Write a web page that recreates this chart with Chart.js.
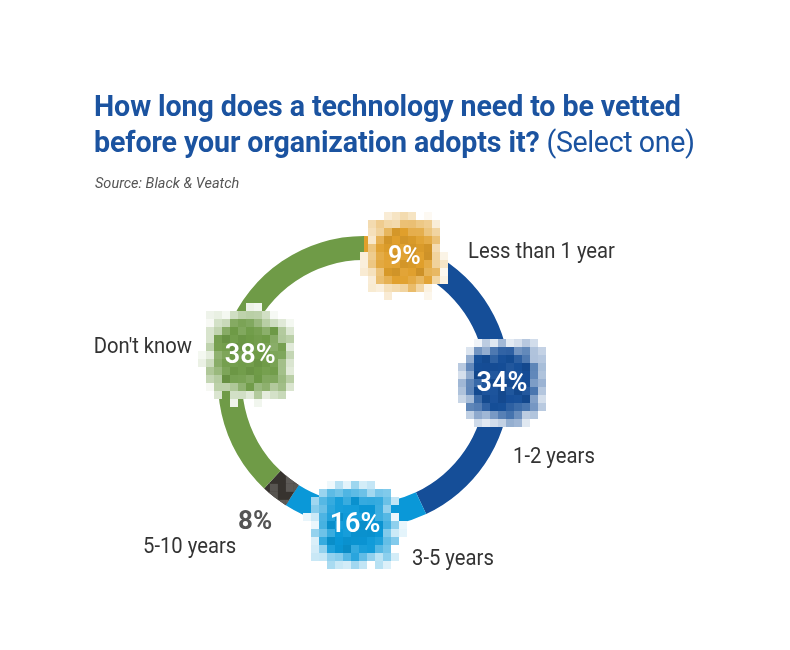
<!DOCTYPE html>
<html><head><meta charset="utf-8">
<script src="https://cdn.jsdelivr.net/npm/chart.js@4.4.1/dist/chart.umd.min.js"></script>
<style>
html,body{margin:0;padding:0;background:#fff;width:790px;height:650px;overflow:hidden;font-family:Roboto,"Noto Sans",sans-serif}
#title{position:absolute;left:94px;top:88px;color:#1b53a0;font-size:28.6px;line-height:36px;font-weight:700;white-space:nowrap;z-index:2;letter-spacing:-0.1px}
#title .light{font-weight:400;letter-spacing:-0.4px}
#source{position:absolute;left:95px;top:175px;font-size:14.5px;font-style:italic;color:#555;z-index:2}
#wrap{position:absolute;left:0;top:0;width:790px;height:650px}
</style></head><body>
<div id="title">How long does a technology need to be vetted<br>before your organization adopts it? <span class="light">(Select one)</span></div>
<div id="source">Source: Black &amp; Veatch</div>
<div id="wrap"><canvas id="c" width="790" height="650" style="width:790px;height:650px"></canvas></div>
<script>
// ---- data ----
const categories = ["Less than 1 year", "1-2 years", "3-5 years", "5-10 years", "Don't know"];
const shares = [9, 34, 16, 3, 38];              // arc sizes as drawn in the ring
const valueLabels = ["9%", "34%", "16%", "8%", "38%"]; // labels as printed
const colors = ["#e09f2b", "#154e98", "#0a98d8", "#37332f", "#6f9b47"];

// ---- style config ----
const badgeCfg = {
  frac: [0.55, 0.475, 0.5, null, 0.44],
  rOff: [-2, 4, 9, null, -17],
  size: [0.92, 1.0, 1.0, 0, 1.05],
  font: [25, 27, 27, 0, 27]
};
const outLabels = [
  {text: "Less than 1 year", dx: 104, dy: -130, align: "left"},
  {text: "1-2 years", dx: 149, dy: 75, align: "left"},
  {text: "3-5 years", dx: 48, dy: 177, align: "left"},
  {text: "5-10 years", dx: -221, dy: 165, align: "left"},
  {text: "Don't know", dx: -172, dy: -35, align: "right"}
];
const darkLabel = {dx: -126, dy: 140};

function hash(a, b, c) {
  const v = Math.sin(a * 12.9898 + b * 78.233 + c * 37.719) * 43758.5453;
  return v - Math.floor(v);
}
function hexToRgb(h) {
  const n = parseInt(h.slice(1), 16);
  return [(n >> 16) & 255, (n >> 8) & 255, n & 255];
}
function shade(rgb, t) {
  if (t >= 0) return rgb.map(c => Math.round(c + (255 - c) * t));
  return rgb.map(c => Math.round(c * (1 + t)));
}

const badgePlugin = {
  id: 'badges',
  afterDatasetsDraw(chart) {
    const ctx = chart.ctx;
    const meta = chart.getDatasetMeta(0);
    const arc0 = meta.data[0];
    const cx = arc0.x, cy = arc0.y;
    const cell = 8;
    // subtle mosaic on the dark slice
    {
      const a = meta.data[3];
      const p = a.getProps(['startAngle', 'endAngle', 'innerRadius', 'outerRadius'], true);
      ctx.save();
      ctx.beginPath();
      ctx.arc(cx, cy, p.outerRadius, p.startAngle, p.endAngle);
      ctx.arc(cx, cy, p.innerRadius, p.endAngle, p.startAngle, true);
      ctx.closePath();
      ctx.clip();
      const mid = (p.startAngle + p.endAngle) / 2, rr = (p.innerRadius + p.outerRadius) / 2;
      const bx = cx + rr * Math.cos(mid), by = cy + rr * Math.sin(mid);
      const base = hexToRgb(colors[3]);
      for (let i = -3; i <= 3; i++) for (let j = -3; j <= 3; j++) {
        const h = hash(i + 40, j + 40, 3);
        if (h < 0.5) continue;
        const c = shade(base, 0.1 + h * 0.1);
        ctx.fillStyle = `rgb(${c[0]},${c[1]},${c[2]})`;
        ctx.fillRect(bx + i * cell - cell / 2, by + j * cell - cell / 2, cell, cell);
      }
      ctx.restore();
    }
    meta.data.forEach((arc, k) => {
      if (badgeCfg.frac[k] === null) return;
      const p = arc.getProps(['startAngle', 'endAngle', 'innerRadius', 'outerRadius'], true);
      const ang = p.startAngle + badgeCfg.frac[k] * (p.endAngle - p.startAngle);
      const r = (p.innerRadius + p.outerRadius) / 2 + badgeCfg.rOff[k];
      const bx = cx + r * Math.cos(ang), by = cy + r * Math.sin(ang);
      const base = hexToRgb(colors[k]);
      const sc = badgeCfg.size[k];
      const core = 3.5 * sc, fade = 2.3 * sc;
      for (let i = -7; i <= 7; i++) for (let j = -7; j <= 7; j++) {
        const d = 0.5 * Math.max(Math.abs(i), Math.abs(j)) + 0.5 * Math.sqrt(i * i + j * j);
        const h1 = hash(i, j, k), h2 = hash(j + 11, i + 7, k + 3);
        let alpha;
        if (d <= core) alpha = 1;
        else alpha = 1 - (d - core) / fade + (h1 - 0.5) * 0.5;
        alpha = Math.max(0, Math.min(1, alpha));
        if (alpha < 0.07) continue;
        let t;
        if (d <= core - 1) t = (h2 - 0.55) * 0.14;
        else if (d <= core) t = (h2 - 0.3) * 0.3;
        else t = h2 * 0.25;
        const c = shade(base, t);
        const fc = shade(c, 1 - alpha); // blend toward white
        ctx.fillStyle = `rgb(${fc[0]},${fc[1]},${fc[2]})`;
        ctx.fillRect(Math.round(bx + i * cell - cell / 2), Math.round(by + j * cell - cell / 2), cell, cell);
      }
      ctx.save();
      ctx.fillStyle = '#ffffff';
      ctx.font = `600 ${badgeCfg.font[k]}px Roboto, sans-serif`;
      ctx.textAlign = 'center';
      ctx.textBaseline = 'middle';
      ctx.fillText(valueLabels[k], bx, by + 1);
      ctx.restore();
    });
    // outside category labels
    ctx.save();
    ctx.fillStyle = '#333333';
    ctx.font = '22px Roboto, sans-serif';
    ctx.textBaseline = 'middle';
    outLabels.forEach(l => {
      ctx.save();
      ctx.translate(cx + l.dx, cy + l.dy);
      ctx.scale(0.92, 1);
      ctx.textAlign = l.align;
      ctx.fillText(l.text, 0, 0);
      ctx.restore();
    });
    // dark slice value label
    ctx.fillStyle = '#555555';
    ctx.font = 'bold 26px Roboto, sans-serif';
    ctx.textAlign = 'left';
    ctx.fillText(valueLabels[3], cx + darkLabel.dx, cy + darkLabel.dy);
    ctx.restore();
  }
};

new Chart(document.getElementById('c'), {
  type: 'doughnut',
  data: {
    labels: categories,
    datasets: [{
      data: shares,
      backgroundColor: colors,
      borderWidth: 0,
      hoverOffset: 0
    }]
  },
  options: {
    responsive: false,
    animation: false,
    rotation: 0,
    cutout: '83.5%',
    layout: {padding: {left: 218, right: 280, top: 236, bottom: 122}},
    plugins: {legend: {display: false}, tooltip: {enabled: false}},
    events: []
  },
  plugins: [badgePlugin]
});
</script>
</body></html>
